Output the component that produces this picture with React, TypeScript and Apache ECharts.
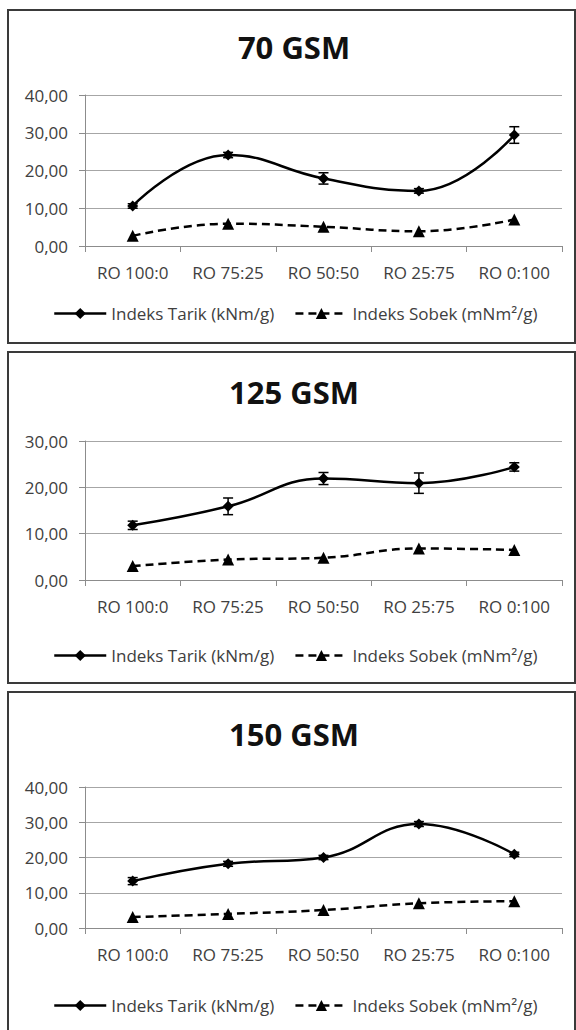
import React, { useEffect, useRef } from "react";
import * as echarts from "echarts";

const categories = ["RO 100:0", "RO 75:25", "RO 50:50", "RO 25:75", "RO 0:100"];
const panelTitles = ["70 GSM", "125 GSM", "150 GSM"];
const yMaxes = [40, 30, 40];

const tarik70 = [10.6, 24.1, 17.9, 14.6, 29.4];
const tarikErr70 = [0.6, 0.7, 1.5, 0.6, 2.2];
const sobek70 = [2.7, 5.9, 5.1, 3.9, 7.0];

const tarik125 = [11.8, 15.9, 21.9, 20.9, 24.4];
const tarikErr125 = [0.9, 1.8, 1.3, 2.2, 0.9];
const sobek125 = [3.0, 4.4, 4.8, 6.8, 6.5];

const tarik150 = [13.3, 18.2, 20.0, 29.5, 20.9];
const tarikErr150 = [1.0, 0.7, 0.6, 0.7, 0.6];
const sobek150 = [3.1, 4.0, 5.1, 7.0, 7.6];

const NAME_TARIK = "Indeks Tarik (kNm/g)";
const NAME_SOBEK = "Indeks Sobek (mNm²/g)";

const tarikSets = [tarik70, tarik125, tarik150];
const errSets = [tarikErr70, tarikErr125, tarikErr150];
const sobekSets = [sobek70, sobek125, sobek150];

// layout (pixels)
const panels = [
  { top: 10, bottom: 343, titleY: 48, gridTop: 95, gridH: 151, legendY: 313 },
  { top: 352, bottom: 683, titleY: 393, gridTop: 441, gridH: 139, legendY: 655 },
  { top: 692, bottom: 1040, titleY: 735, gridTop: 787, gridH: 141, legendY: 1005 },
];

const FONT = "'Open Sans', 'Noto Sans', sans-serif";
const AXIS_COLOR = "#8c8c8c";
const GRID_COLOR = "#a6a6a6";
const LABEL_COLOR = "#404040";

export default function App() {
  const ref = useRef<HTMLDivElement>(null);

  useEffect(() => {
    if (!ref.current) return;
    const chart = echarts.init(ref.current, undefined, { renderer: "svg" });

    const grids: any[] = [];
    const xAxes: any[] = [];
    const yAxes: any[] = [];
    const series: any[] = [];
    const titles: any[] = [];
    const legends: any[] = [];
    const graphics: any[] = [];

    panels.forEach((p, i) => {
      graphics.push({
        type: "rect",
        z: -10,
        shape: { x: 8, y: p.top, width: 567, height: p.bottom - p.top },
        style: { fill: "#ffffff", stroke: "#3a3a3a", lineWidth: 2 },
      });
      titles.push({
        text: panelTitles[i],
        left: 294,
        top: p.titleY - 17,
        textAlign: "center",
        padding: 0,
        textStyle: { fontFamily: FONT, fontSize: 31, fontWeight: "bold", color: "#111111" },
      });
      grids.push({ left: 85, right: 14, top: p.gridTop, height: p.gridH });
      xAxes.push({
        type: "category",
        gridIndex: i,
        data: categories,
        boundaryGap: true,
        axisLine: { show: true, lineStyle: { color: AXIS_COLOR, width: 1 } },
        axisTick: { show: true, length: 6, alignWithLabel: false, lineStyle: { color: AXIS_COLOR } },
        axisLabel: { fontFamily: FONT, fontSize: 17, color: LABEL_COLOR, margin: 18, interval: 0 },
        splitLine: { show: false },
      });
      yAxes.push({
        type: "value",
        gridIndex: i,
        min: 0,
        max: yMaxes[i],
        interval: 10,
        axisLine: { show: true, lineStyle: { color: AXIS_COLOR, width: 1 } },
        axisTick: { show: true, length: 6, lineStyle: { color: AXIS_COLOR } },
        axisLabel: {
          fontFamily: FONT,
          fontSize: 17,
          color: LABEL_COLOR,
          margin: 17,
          formatter: (v: number) => v.toFixed(2).replace(".", ","),
        },
        splitLine: { show: true, lineStyle: { color: GRID_COLOR, width: 1 } },
      });
      series.push({
        name: NAME_TARIK,
        type: "line",
        xAxisIndex: i,
        yAxisIndex: i,
        data: tarikSets[i],
        smooth: 0.45,
        symbol: "diamond",
        symbolSize: 11,
        itemStyle: { color: "#000000" },
        lineStyle: { color: "#000000", width: 2.5, type: "solid" },
        z: 3,
      });
      series.push({
        name: NAME_SOBEK,
        type: "line",
        xAxisIndex: i,
        yAxisIndex: i,
        data: sobekSets[i],
        smooth: 0.45,
        symbol: "triangle",
        symbolSize: 12,
        itemStyle: { color: "#000000" },
        lineStyle: { color: "#000000", width: 2.5, type: [8, 5] },
        z: 3,
      });
      const errData = tarikSets[i].map((v, k) => [k, v - errSets[i][k], v + errSets[i][k]]);
      series.push({
        name: "err" + i,
        type: "custom",
        xAxisIndex: i,
        yAxisIndex: i,
        data: errData,
        z: 4,
        renderItem: (params: any, api: any) => {
          const x = api.value(0);
          const lo = api.coord([x, api.value(1)]);
          const hi = api.coord([x, api.value(2)]);
          const hw = 5;
          const st = { stroke: "#000000", lineWidth: 1.5 };
          return {
            type: "group",
            children: [
              { type: "line", shape: { x1: lo[0], y1: lo[1], x2: hi[0], y2: hi[1] }, style: st },
              { type: "line", shape: { x1: hi[0] - hw, y1: hi[1], x2: hi[0] + hw, y2: hi[1] }, style: st },
              { type: "line", shape: { x1: lo[0] - hw, y1: lo[1], x2: lo[0] + hw, y2: lo[1] }, style: st },
            ],
          };
        },
      });
      legends.push({
        data: [NAME_TARIK, NAME_SOBEK],
        left: 53,
        top: p.legendY - 8,
        padding: 0,
        itemWidth: 52,
        itemHeight: 14,
        itemGap: 20,
        selectedMode: false,
        lineStyle: { width: 2.5, color: "inherit", type: "inherit" },
        textStyle: { fontFamily: FONT, fontSize: 17, color: LABEL_COLOR, padding: [0, 0, 0, 0] },
      });
    });

    chart.setOption({
      animation: false,
      backgroundColor: "#ffffff",
      title: titles,
      legend: legends,
      grid: grids,
      xAxis: xAxes,
      yAxis: yAxes,
      series,
      graphic: graphics,
    });

    return () => chart.dispose();
  }, []);

  return (
    <div
      ref={ref}
      style={{ position: "absolute", left: 0, top: 0, width: 576, height: 1030, background: "#fff" }}
    />
  );
}
